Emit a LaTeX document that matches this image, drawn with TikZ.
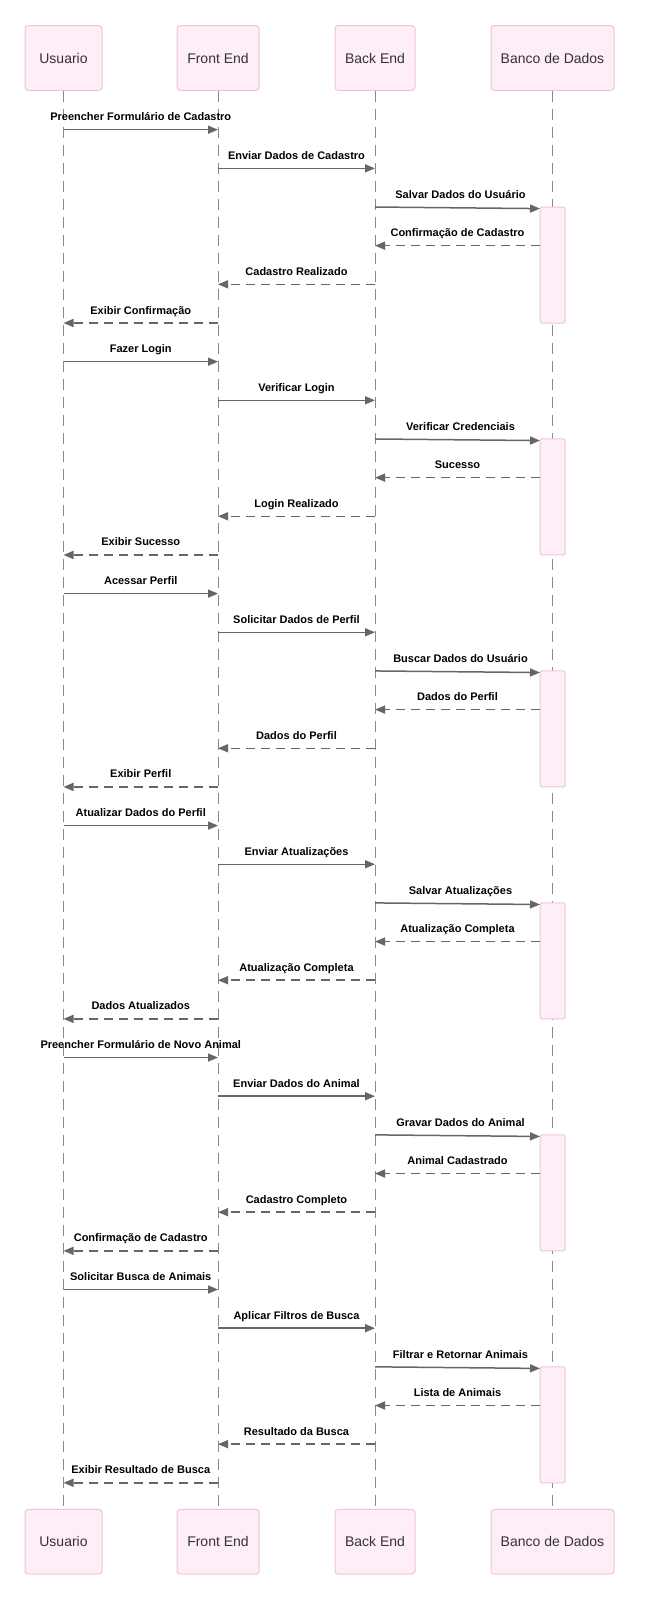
\documentclass[tikz,border=0pt]{standalone}
\usepackage{fontspec}
\setmainfont{Liberation Sans}
\usetikzlibrary{arrows.meta,calc}
\definecolor{actfill}{HTML}{FDEEF7}
\definecolor{actborder}{HTML}{F2C2DC}
\definecolor{linegray}{HTML}{666666}
\definecolor{lifegray}{HTML}{888888}
\definecolor{actortext}{HTML}{333333}
\newcommand{\msgline}[5]{%
  \pgfmathsetmacro{\my}{129.7+38.66*#1}%
  \coordinate (m#1s) at (#2,\my);
  \coordinate (m#1e) at (#3,\my);
  \draw[#4] (m#1s) -- (m#1e);
  \node[msglabel] (t#1) at ($(m#1s)!0.5!(m#1e)+(0,-9)$) {#5};
}
\newcommand{\msgdb}[2]{%
  \pgfmathsetmacro{\my}{129.7+38.66*#1}%
  \pgfmathsetmacro{\myb}{\my+1.6}%
  \coordinate (m#1s) at (375,\my);
  \coordinate (m#1e) at (540,\myb);
  \draw[msgsolid] (m#1s) -- (m#1e);
  \node[msglabel] (t#1) at ($(m#1s)!0.5!(m#1e)+(3,-9)$) {#2};
}
\begin{document}
\begin{tikzpicture}[x=1pt,y=-1pt,
  actor/.style={draw=actborder, fill=actfill, line width=1pt, rounded corners=3pt,
    inner sep=0pt, minimum height=64.6pt, text=actortext, font=\fontsize{14}{16}\selectfont},
  lifeline/.style={draw=lifegray, line width=1pt, dash pattern=on 11pt off 7pt},
  activ/.style={draw=actborder, fill=actfill, line width=1pt, rounded corners=2pt,
    minimum width=25pt, inner sep=0pt},
  msgsolid/.style={draw=linegray, line width=1.5pt, -{Triangle[length=10pt,width=8pt]}},
  msgdash/.style={msgsolid, dash pattern=on 9pt off 6pt},
  msglabel/.style={font=\bfseries\fontsize{11}{13}\selectfont, anchor=base, inner sep=0pt, text=black}
]
\useasboundingbox (0,0) rectangle (652,1600);
\fill[white] (0,0) rectangle (652,1600);

% actors top
\node[actor, minimum width=77pt]  (uT) at (63.5,58)  {Usuario};
\node[actor, minimum width=82pt]  (fT) at (218,58)   {Front End};
\node[actor, minimum width=80pt]  (bT) at (375,58)   {Back End};
\node[actor, minimum width=123pt] (dT) at (552.5,58) {Banco de Dados};
% actors bottom
\node[actor, minimum width=77pt]  (uB) at (63.5,1541.7)  {Usuario};
\node[actor, minimum width=82pt]  (fB) at (218,1541.7)   {Front End};
\node[actor, minimum width=80pt]  (bB) at (375,1541.7)   {Back End};
\node[actor, minimum width=123pt] (dB) at (552.5,1541.7) {Banco de Dados};

% lifelines
\draw[lifeline] (uT.south) -- (uB.north);
\draw[lifeline] (fT.south) -- (fB.north);
\draw[lifeline] (bT.south) -- (bB.north);
\draw[lifeline] (dT.south) -- (dB.north);

% activations
\foreach \g in {0,...,5} {
  \pgfmathsetmacro{\cy}{129.7+38.66*(6*\g+3.5)}
  \node[activ, minimum height=116pt] (a\g) at (552.5,\cy) {};
}

% group 1
\msgline{0}{63.5}{218}{msgsolid}{Preencher Formulário de Cadastro}
\msgline{1}{218}{375}{msgsolid}{Enviar Dados de Cadastro}
\msgdb{2}{Salvar Dados do Usuário}
\msgline{3}{540}{375}{msgdash}{Confirmação de Cadastro}
\msgline{4}{375}{218}{msgdash}{Cadastro Realizado}
\msgline{5}{218}{63.5}{msgdash}{Exibir Confirmação}
% group 2
\msgline{6}{63.5}{218}{msgsolid}{Fazer Login}
\msgline{7}{218}{375}{msgsolid}{Verificar Login}
\msgdb{8}{Verificar Credenciais}
\msgline{9}{540}{375}{msgdash}{Sucesso}
\msgline{10}{375}{218}{msgdash}{Login Realizado}
\msgline{11}{218}{63.5}{msgdash}{Exibir Sucesso}
% group 3
\msgline{12}{63.5}{218}{msgsolid}{Acessar Perfil}
\msgline{13}{218}{375}{msgsolid}{Solicitar Dados de Perfil}
\msgdb{14}{Buscar Dados do Usuário}
\msgline{15}{540}{375}{msgdash}{Dados do Perfil}
\msgline{16}{375}{218}{msgdash}{Dados do Perfil}
\msgline{17}{218}{63.5}{msgdash}{Exibir Perfil}
% group 4
\msgline{18}{63.5}{218}{msgsolid}{Atualizar Dados do Perfil}
\msgline{19}{218}{375}{msgsolid}{Enviar Atualizações}
\msgdb{20}{Salvar Atualizações}
\msgline{21}{540}{375}{msgdash}{Atualização Completa}
\msgline{22}{375}{218}{msgdash}{Atualização Completa}
\msgline{23}{218}{63.5}{msgdash}{Dados Atualizados}
% group 5
\msgline{24}{63.5}{218}{msgsolid}{Preencher Formulário de Novo Animal}
\msgline{25}{218}{375}{msgsolid}{Enviar Dados do Animal}
\msgdb{26}{Gravar Dados do Animal}
\msgline{27}{540}{375}{msgdash}{Animal Cadastrado}
\msgline{28}{375}{218}{msgdash}{Cadastro Completo}
\msgline{29}{218}{63.5}{msgdash}{Confirmação de Cadastro}
% group 6
\msgline{30}{63.5}{218}{msgsolid}{Solicitar Busca de Animais}
\msgline{31}{218}{375}{msgsolid}{Aplicar Filtros de Busca}
\msgdb{32}{Filtrar e Retornar Animais}
\msgline{33}{540}{375}{msgdash}{Lista de Animais}
\msgline{34}{375}{218}{msgdash}{Resultado da Busca}
\msgline{35}{218}{63.5}{msgdash}{Exibir Resultado de Busca}
\end{tikzpicture}
\end{document}
